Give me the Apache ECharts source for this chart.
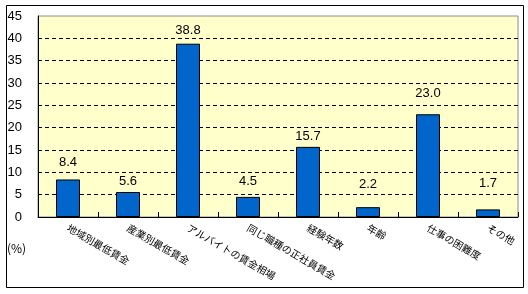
<!DOCTYPE html>
<html>
<head>
<meta charset="utf-8">
<script src="https://cdn.jsdelivr.net/npm/echarts@6/dist/echarts.min.js"></script>
<style>
html,body{margin:0;padding:0;background:#fff;}
#chart{width:528px;height:294px;}
</style>
</head>
<body>
<div id="chart"></div>
<script>
const categories = ['地域別最低賃金', '産業別最低賃金', 'アルバイトの賃金相場', '同じ職種の正社員賃金', '経験年数', '年齢', '仕事の困難度', 'その他'];
const values = [8.4, 5.6, 38.8, 4.5, 15.7, 2.2, 23.0, 1.7];
const yTicks = [0, 5, 10, 15, 20, 25, 30, 35, 40, 45];
const unitLabel = '(%)';

const chart = echarts.init(document.getElementById('chart'), null, {renderer: 'canvas'});
const font = '"Noto Sans CJK JP", "Noto Sans", sans-serif';
const numFont = 'Liberation Sans, Arial, sans-serif';
// label gaps above each bar, as placed in the original chart (styling only)
const labelGap = [11, 4, 7, 9, 4, 16, 14, 19];
chart.setOption({
  animation: false,
  backgroundColor: '#fff',
  textStyle: {fontFamily: font},
  grid: {
    left: 38, top: 16, right: 10, bottom: 77,
    show: true, backgroundColor: '#FFFFCC', borderColor: '#8c8c8c', borderWidth: 1
  },
  graphic: [
    {type: 'rect', shape: {x: 6.5, y: 5.5, width: 517, height: 282}, style: {fill: 'none', stroke: '#000', lineWidth: 1}, z: 100},
    {type: 'text', left: 7, top: 242, style: {text: unitLabel, fontSize: 12, fontFamily: font, fill: '#000'}}
  ],
  xAxis: {
    type: 'category',
    data: categories,
    axisLine: {show: true, lineStyle: {color: '#000', width: 1}},
    axisTick: {show: true, inside: true, length: 5, lineStyle: {color: '#000'}},
    axisLabel: {rotate: -30, interval: 0, fontSize: 10, color: '#000', margin: 10, fontFamily: font}
  },
  yAxis: {
    type: 'value',
    min: yTicks[0], max: yTicks[yTicks.length - 1], interval: yTicks[1] - yTicks[0],
    axisLine: {show: true, lineStyle: {color: '#000', width: 1}},
    axisTick: {show: false},
    axisLabel: {fontSize: 13, color: '#000', margin: 16, fontFamily: numFont},
    splitLine: {show: true, showMinLine: false, showMaxLine: false, lineStyle: {color: '#000', type: [4, 3], width: 1}}
  },
  series: [{
    type: 'bar',
    data: values.map((v, i) => ({value: v, label: {distance: labelGap[i]}})),
    barWidth: '40%',
    itemStyle: {color: '#0066CC', borderColor: '#000', borderWidth: 1},
    label: {
      show: true, position: 'top', distance: 8, fontSize: 13, color: '#000',
      fontFamily: numFont,
      formatter: p => p.value.toFixed(1)
    }
  }]
});
</script>
</body>
</html>
